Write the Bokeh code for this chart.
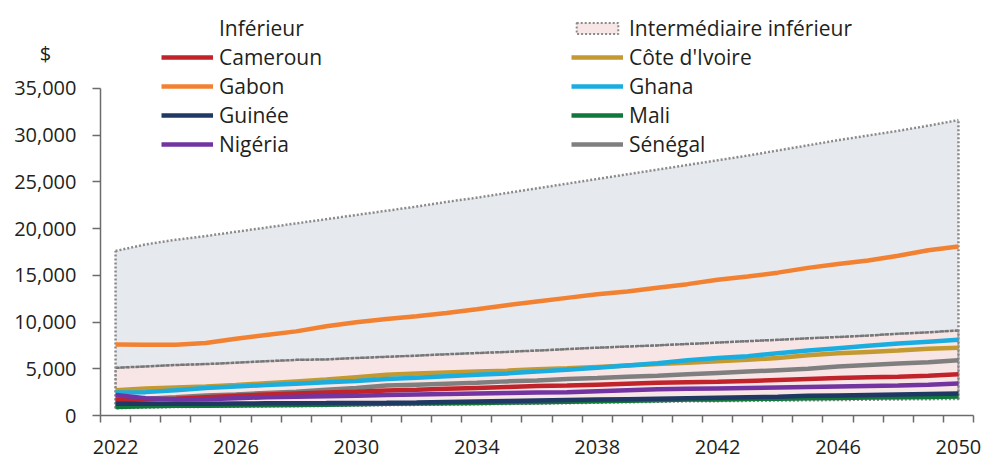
from bokeh.plotting import figure
from bokeh.models import (Range1d, FixedTicker, NumeralTickFormatter, Legend, LegendItem,
                          ColumnDataSource, Label)
from bokeh.embed import file_html
from bokeh.resources import INLINE
from bokeh.core.properties import value

# ---------------- data ----------------
years = list(range(2022, 2051))
x_tick_labels = [2022, 2026, 2030, 2034, 2038, 2042, 2046, 2050]
y_ticks = [0, 5000, 10000, 15000, 20000, 25000, 30000, 35000]

band_low = [750, 830, 880, 900, 920, 950, 970, 1000, 1040, 1080, 1110, 1140, 1170, 1210, 1250,
            1290, 1340, 1390, 1440, 1490, 1510, 1540, 1570, 1600, 1630, 1660, 1690, 1720, 1750]
band_inferieur_top = [5100, 5250, 5400, 5500, 5650, 5800, 5950, 6000, 6150, 6280, 6400, 6550, 6680,
                      6800, 6950, 7100, 7250, 7380, 7500, 7650, 7800, 7950, 8100, 8250, 8400, 8550,
                      8750, 8900, 9100]
band_intermediaire_top = [17600, 18300, 18800, 19200, 19650, 20100, 20550, 21000, 21450, 21900,
                          22350, 22850, 23300, 23800, 24300, 24800, 25300, 25800, 26300, 26800,
                          27300, 27800, 28350, 28900, 29450, 29950, 30450, 31000, 31600]

cameroun = [1650, 1700, 1800, 1950, 2100, 2250, 2350, 2450, 2550, 2680, 2750, 2850, 2950, 3050,
            3150, 3200, 3300, 3400, 3500, 3550, 3600, 3700, 3800, 3900, 4000, 4100, 4150, 4250, 4400]
cote_ivoire = [2700, 2900, 3000, 3100, 3250, 3450, 3650, 3850, 4100, 4350, 4500, 4600, 4700, 4800,
               4950, 5050, 5200, 5350, 5500, 5650, 5800, 5950, 6150, 6450, 6650, 6800, 6950, 7150, 7250]
gabon = [7600, 7580, 7560, 7750, 8200, 8600, 9000, 9550, 9980, 10330, 10620, 10960, 11370, 11800,
         12200, 12580, 12960, 13260, 13670, 14050, 14530, 14870, 15280, 15790, 16200, 16580, 17090,
         17670, 18080]
ghana = [2450, 2500, 2700, 2950, 3100, 3250, 3400, 3550, 3700, 3900, 4050, 4200, 4350, 4500, 4700,
         4900, 5100, 5350, 5600, 5900, 6150, 6350, 6650, 6950, 7200, 7450, 7700, 7900, 8100]
guinee = [1250, 1250, 1250, 1250, 1280, 1300, 1320, 1330, 1350, 1370, 1400, 1450, 1500, 1550, 1600,
          1650, 1700, 1750, 1800, 1850, 1900, 1950, 2000, 2100, 2150, 2200, 2250, 2300, 2350]
mali = [900, 1000, 1050, 1050, 1080, 1100, 1120, 1150, 1200, 1250, 1280, 1300, 1330, 1380, 1420,
        1480, 1530, 1580, 1640, 1700, 1720, 1760, 1800, 1850, 1880, 1920, 1950, 1980, 2020]
nigeria = [2200, 1850, 1700, 1750, 1850, 1950, 2000, 2050, 2100, 2180, 2250, 2300, 2350, 2400, 2450,
           2500, 2600, 2700, 2800, 2850, 2900, 2950, 3000, 3050, 3100, 3150, 3200, 3300, 3420]
senegal = [1750, 1800, 1950, 2150, 2250, 2400, 2550, 2750, 2950, 3200, 3300, 3400, 3500, 3650, 3750,
           3900, 4000, 4150, 4250, 4400, 4550, 4700, 4850, 5000, 5250, 5400, 5550, 5700, 5900]

# ---------------- styles ----------------
FONT = "Open Sans"
TEXT = "#231F20"
AXIS = "#6b6b6b"
C = {
    "Cameroun": "#C1232B", "Côte d'Ivoire": "#C39A31", "Gabon": "#F28232", "Ghana": "#1AADDF",
    "Guinée": "#1F3864", "Mali": "#11773A", "Nigéria": "#7134A0", "Sénégal": "#7F7F7F",
}
BLUEGREY = "#E6E9EE"
PINK = "#F8E6E7"
DOT = "#8a8a8a"

src = ColumnDataSource(dict(year=years, low=band_low, mid=band_inferieur_top,
                            top=band_intermediaire_top, cam=cameroun, civ=cote_ivoire,
                            gab=gabon, gha=ghana, gui=guinee, mal=mali, nga=nigeria, sen=senegal))

W, H = 981, 459
p = figure(width=W, height=H, output_backend="svg", toolbar_location=None,
           x_range=Range1d(2021.5, 2050.5), y_range=Range1d(0, 44390),
           min_border_left=99, min_border_right=8, min_border_top=0, min_border_bottom=44)
p.outline_line_color = None
p.grid.visible = False

# bands
p.varea(x="year", y1="low", y2="top", source=src, fill_color=BLUEGREY)
p.line(x="year", y="top", source=src, line_color=DOT, line_width=2.5, line_dash="2 2")
pink_band = p.patch(x=years + years[::-1], y=band_inferieur_top + band_low[::-1],
                    fill_color=PINK, line_color=DOT, line_width=2.0, line_dash="2 2")
p.line(x="year", y="mid", source=src, line_color="#777777", line_width=2.5, line_dash="4 1")
p.segment(x0=[years[0], years[-1]], y0=[band_low[0], band_low[-1]],
          x1=[years[0], years[-1]], y1=[band_intermediaire_top[0], band_intermediaire_top[-1]],
          line_color=DOT, line_width=2.5, line_dash="2 2")

# country lines
LW = 4.5
r = {}
for name, col in [("Sénégal", "sen"), ("Côte d'Ivoire", "civ"), ("Ghana", "gha"),
                  ("Cameroun", "cam"), ("Nigéria", "nga"), ("Mali", "mal"),
                  ("Guinée", "gui"), ("Gabon", "gab")]:
    r[name] = p.line(x="year", y=col, source=src, line_color=C[name], line_width=LW)

# invisible renderer for the "Inférieur" heading entry
dummy_inf = p.line(x=[], y=[], line_alpha=0)

def make_legend(items, loc, gh):
    leg = Legend(items=[LegendItem(label=value(lbl), renderers=[rr]) for lbl, rr in items],
                 location=loc, orientation="vertical", background_fill_alpha=0,
                 border_line_color=None, padding=0, margin=0, spacing=1,
                 glyph_width=52, glyph_height=gh, label_height=20, label_standoff=6,
                 label_text_font=FONT, label_text_font_size="21px", label_text_color=TEXT)
    return leg

leg1 = make_legend([("Inférieur", dummy_inf), ("Cameroun", r["Cameroun"]), ("Gabon", r["Gabon"]),
                    ("Guinée", r["Guinée"]), ("Nigéria", r["Nigéria"])], (61, 257), 20)
leg2 = make_legend([("Intermédiaire inférieur", pink_band), ("Côte d'Ivoire", r["Côte d'Ivoire"]),
                    ("Ghana", r["Ghana"]), ("Mali", r["Mali"]), ("Sénégal", r["Sénégal"])],
                   (471, 257), 14)
p.add_layout(leg1)
p.add_layout(leg2)

# axes
p.xaxis.ticker = FixedTicker(ticks=x_tick_labels,
                             minor_ticks=[y - 0.5 for y in years] + [years[-1] + 0.5])
p.xaxis.major_tick_out = 0
p.xaxis.major_tick_in = 0
p.xaxis.minor_tick_out = 7
p.xaxis.minor_tick_in = 0
p.xaxis.major_label_standoff = 17

p.yaxis.ticker = FixedTicker(ticks=y_ticks)
p.yaxis.bounds = (0, 35000)
p.yaxis.formatter = NumeralTickFormatter(format="0,0")
p.yaxis.major_tick_out = 8
p.yaxis.major_tick_in = 0
p.yaxis.minor_tick_out = 0
p.yaxis.minor_tick_in = 0
p.yaxis.major_label_standoff = 16

for ax in (p.xaxis, p.yaxis):
    ax.axis_line_color = AXIS
    ax.axis_line_width = 1.5
    ax.major_tick_line_color = AXIS
    ax.major_tick_line_width = 1.5
    ax.minor_tick_line_color = AXIS
    ax.minor_tick_line_width = 1.5
    ax.major_label_text_font = FONT
    ax.major_label_text_font_size = "20px"
    ax.major_label_text_color = TEXT

# "$" unit label placed in the left side panel (not clipped to the frame)
p.add_layout(Label(x=45, y=362, x_units="screen", y_units="screen", text="$",
                   text_font=FONT, text_font_size="20px", text_color=TEXT,
                   text_align="center", text_baseline="middle"), "left")

open("out.html", "w").write(file_html(p, INLINE))
